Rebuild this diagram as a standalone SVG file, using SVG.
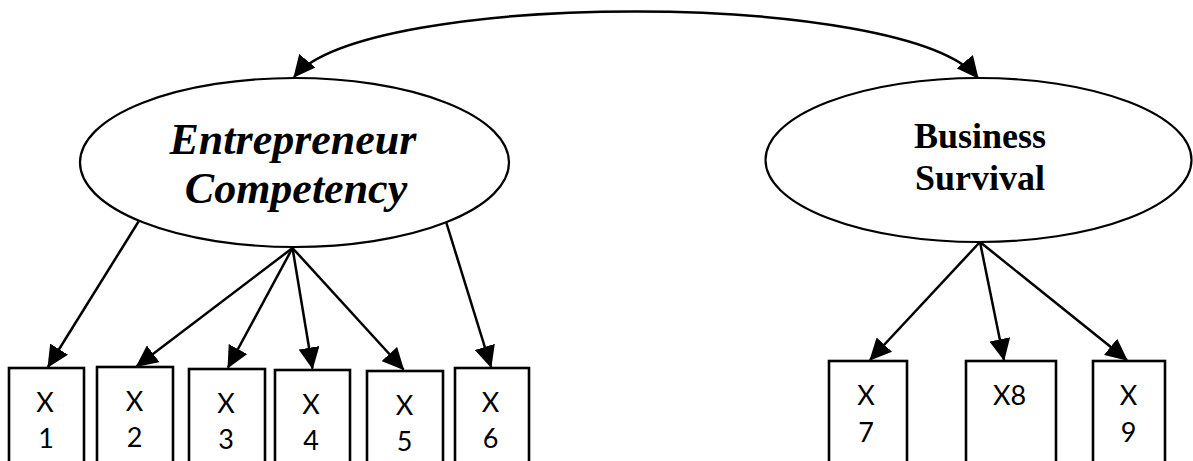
<svg xmlns="http://www.w3.org/2000/svg" width="1193" height="461" viewBox="0 0 1193 461">
  <style>
    .latent { fill: #ffffff; stroke: #000000; stroke-width: 2.2; }
    .item { fill: #ffffff; stroke: #000000; stroke-width: 2.6; }
    .lbl { font-family: "Liberation Serif", "Times New Roman", serif; font-weight: bold; fill: #000000; text-anchor: middle; }
    .ind { font-family: Lato, "Open Sans", "Liberation Sans", sans-serif; font-size: 27px; fill: #000000; text-anchor: middle; }
    .edge { fill: none; stroke: #000000; stroke-width: 2.5; }
  </style>
  <defs>
    <marker id="head" viewBox="0 0 22 21" refX="21" refY="10.5" markerWidth="22" markerHeight="21" markerUnits="userSpaceOnUse" orient="auto-start-reverse">
      <path d="M0,0 L22,10.5 L0,21 z" fill="#000000"/>
    </marker>
  </defs>
  <rect width="1193" height="461" fill="#ffffff"/>

  <!-- connectors -->
  <g id="connectors">
    <path class="edge" d="M294,77 C366,-10.5 906,-10.5 978,78" marker-start="url(#head)" marker-end="url(#head)"/>
    <line class="edge" x1="139.5" y1="220" x2="48" y2="367" marker-end="url(#head)"/>
    <line class="edge" x1="292.5" y1="248" x2="136.5" y2="366.5" marker-end="url(#head)"/>
    <line class="edge" x1="292.5" y1="248" x2="228" y2="367.5" marker-end="url(#head)"/>
    <line class="edge" x1="292.5" y1="248" x2="312.5" y2="368.5" marker-end="url(#head)"/>
    <line class="edge" x1="292.5" y1="248" x2="403.5" y2="369.5" marker-end="url(#head)"/>
    <line class="edge" x1="445.5" y1="220" x2="491" y2="367" marker-end="url(#head)"/>
    <line class="edge" x1="980" y1="242" x2="870" y2="360" marker-end="url(#head)"/>
    <line class="edge" x1="980" y1="242" x2="1004" y2="360" marker-end="url(#head)"/>
    <line class="edge" x1="980" y1="242" x2="1127" y2="360" marker-end="url(#head)"/>
  </g>

  <!-- latent constructs -->
  <g id="entrepreneur-competency">
    <ellipse class="latent" cx="294.5" cy="162.5" rx="214.5" ry="84.5"/>
    <text class="lbl" x="293" y="154" font-size="44" font-style="italic">Entrepreneur</text>
    <text class="lbl" x="296" y="203" font-size="44" font-style="italic">Competency</text>
  </g>
  <g id="business-survival">
    <ellipse class="latent" cx="978.5" cy="160" rx="213" ry="82"/>
    <text class="lbl" x="980" y="148" font-size="36">Business</text>
    <text class="lbl" x="980" y="190" font-size="36">Survival</text>
  </g>

  <!-- indicators -->
  <g id="x1">
    <rect class="item" x="9" y="368" width="75" height="110"/>
    <text class="ind" x="45" y="412">X</text>
    <text class="ind" x="46" y="448">1</text>
  </g>
  <g id="x2">
    <rect class="item" x="97" y="367" width="76" height="110"/>
    <text class="ind" x="134.5" y="411">X</text>
    <text class="ind" x="134.5" y="447">2</text>
  </g>
  <g id="x3">
    <rect class="item" x="189" y="369" width="76" height="110"/>
    <text class="ind" x="226" y="413">X</text>
    <text class="ind" x="226" y="449">3</text>
  </g>
  <g id="x4">
    <rect class="item" x="275" y="370" width="75" height="110"/>
    <text class="ind" x="311" y="414">X</text>
    <text class="ind" x="311" y="450">4</text>
  </g>
  <g id="x5">
    <rect class="item" x="367" y="371" width="76" height="110"/>
    <text class="ind" x="404.5" y="415">X</text>
    <text class="ind" x="404.5" y="451">5</text>
  </g>
  <g id="x6">
    <rect class="item" x="455" y="368" width="74" height="110"/>
    <text class="ind" x="490.5" y="412">X</text>
    <text class="ind" x="490.5" y="448">6</text>
  </g>
  <g id="x7">
    <rect class="item" x="829" y="361" width="78" height="110"/>
    <text class="ind" x="866" y="405">X</text>
    <text class="ind" x="866" y="442">7</text>
  </g>
  <g id="x8">
    <rect class="item" x="966" y="361" width="90" height="110"/>
    <text class="ind" x="1009.5" y="405">X8</text>
  </g>
  <g id="x9">
    <rect class="item" x="1093" y="361" width="72" height="110"/>
    <text class="ind" x="1128.5" y="405">X</text>
    <text class="ind" x="1128.5" y="442">9</text>
  </g>
</svg>
